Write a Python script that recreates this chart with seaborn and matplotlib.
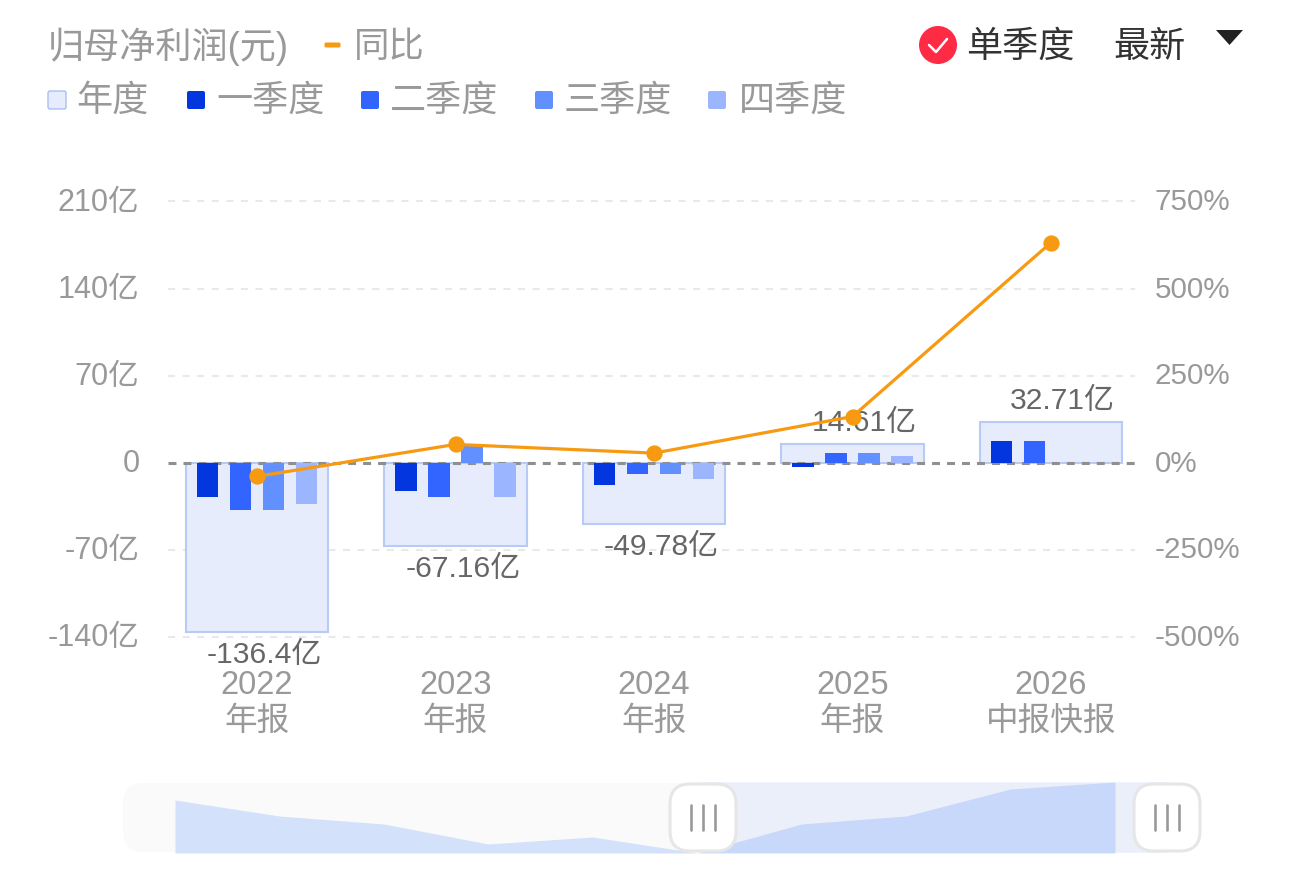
import matplotlib
matplotlib.use("Agg")
import matplotlib.pyplot as plt
from matplotlib.patches import Circle, FancyBboxPatch, Polygon
from matplotlib.transforms import ScaledTranslation
import numpy as np
import pandas as pd
import seaborn as sns

# Data (亿元, %)
periods = ["2022\n年报", "2023\n年报", "2024\n年报", "2025\n年报", "2026\n中报快报"]
quarters = ["一季度", "二季度", "三季度", "四季度"]
annual = [-136.4, -67.16, -49.78, 14.61, 32.71]
annual_labels = ["-136.4亿", "-67.16亿", "-49.78亿", "14.61亿", "32.71亿"]
q1 = [-28, -23, -18.5, -4, 17.7]
q2 = [-38, -28, -9, 8, 17.7]
q3 = [-38, 13, -9, 8, np.nan]
q4 = [-33, -28, -13.5, 5, np.nan]
yoy = [-40, 52, 27, 132, 632]
left_ticks = [-140, -70, 0, 70, 140, 210]
left_labels = ["-140亿", "-70亿", "0", "70亿", "140亿", "210亿"]
right_ticks = [-500, -250, 0, 250, 500, 750]
right_labels = ["-500%", "-250%", "0%", "250%", "500%", "750%"]
overview = [53, 37, 29, 9, 16, 0, 29, 37, 64, 71]

# Colours
q_colors = ["#0336DE", "#3265FF", "#6390FF", "#9BB6FF"]
year_fill = "#E6ECFC"
year_edge = "#B8CBF7"
orange = "#F79A12"
grey_text = "#999999"

sns.set_theme(style="white")
plt.rcParams["font.family"] = ["Liberation Sans", "Noto Sans CJK SC"]

W, H = 1290, 881
fig = plt.figure(figsize=(W / 100, H / 100), dpi=100)


def px_axes(x0, y0, x1, y1, **kw):
    # axes from pixel box, y measured from the top
    return fig.add_axes([x0 / W, 1 - y1 / H, (x1 - x0) / W, (y1 - y0) / H], **kw)


# Background layer for header and overview strip
bg = px_axes(0, 0, W, H, zorder=0)
bg.set_xlim(0, W)
bg.set_ylim(H, 0)
bg.axis("off")

# Main chart: 87px per 70亿
ymin, ymax = -150, 220
scale = 87 / 70
zero_y = 462.5
ax = px_axes(168, zero_y - ymax * scale, 1135, zero_y - ymin * scale, zorder=2)
ax.patch.set_visible(False)

sns.barplot(x=periods, y=annual, color=year_fill, edgecolor=year_edge, linewidth=1.5,
            width=0.72, saturation=1, ax=ax, zorder=1)

df = pd.DataFrame({"period": periods * 4,
                   "quarter": np.repeat(quarters, 5),
                   "value": q1 + q2 + q3 + q4})
sns.barplot(data=df, x="period", y="value", hue="quarter", hue_order=quarters, order=periods,
            palette=q_colors, saturation=1, width=0.665, gap=0.36, dodge=True,
            linewidth=0, edgecolor="none", legend=False, ax=ax, zorder=3)

ax.axhline(0, color="#8F8F8F", lw=2.2, ls=(0, (2.6, 2.3)), zorder=2)
ax.set_axisbelow(True)

for i, (v, txt) in enumerate(zip(annual, annual_labels)):
    off_x = 8.5 if v > 0 else 5.3
    off_y = 15.1 if v > 0 else -16.6
    ax.annotate(txt, xy=(i, v), xytext=(off_x, off_y), textcoords="offset points",
                ha="center", va="center", fontsize=21.6, color="#666666", zorder=4)

ax.set_ylim(ymin, ymax)
ax.set_yticks(left_ticks, left_labels)
ax.grid(axis="y", color="#E9E9E9", lw=1.5, ls=(0, (3.4, 3.6)))
ax.grid(axis="x", visible=False)
ax.get_ygridlines()[left_ticks.index(0)].set_visible(False)
ax.tick_params(axis="y", length=0, pad=20.6, labelsize=22, labelcolor=grey_text)
ax.tick_params(axis="x", length=0, pad=15.5, labelsize=23.5, labelcolor=grey_text)
ax.set_xlabel("")
ax.set_ylabel("")
for label in ax.get_xticklabels():
    label.set_linespacing(1.2)
sns.despine(ax=ax, left=True, bottom=True)

# YoY line on the right axis
ax2 = ax.twinx()
sns.pointplot(x=periods, y=yoy, color=orange, markersize=10, linewidth=2.3,
              errorbar=None, ax=ax2)
ax2.set_ylim(ymin * 250 / 70, ymax * 250 / 70)
ax2.set_yticks(right_ticks, right_labels)
ax2.tick_params(axis="y", length=0, pad=14, labelsize=21.3, labelcolor=grey_text)
ax2.set_xlabel("")
ax2.set_ylabel("")
ax2.grid(False)
sns.despine(ax=ax2, left=True, right=True, bottom=True)
ax.set_xlim((168 - 257) / 198.5, (1135 - 257) / 198.5)

# nudge y tick labels up 2px like the reference
nudge = ScaledTranslation(0, 2 / 100, fig.dpi_scale_trans)
for label in ax.get_yticklabels() + ax2.get_yticklabels():
    label.set_transform(label.get_transform() + nudge)

# Header
bg.text(48, 47, "归母净利润(元)", fontsize=26, color=grey_text, va="center")
bg.add_patch(FancyBboxPatch((326, 44), 13, 2, boxstyle="round,pad=1.5", fc=orange, ec="none"))
bg.text(354, 47, "同比", fontsize=25.5, color=grey_text, va="center")

bg.add_patch(FancyBboxPatch((50, 93), 14, 14, boxstyle="round,pad=2", fc=year_fill, ec="#A9BFF2", lw=1))
bg.text(76, 101, "年度", fontsize=26, color=grey_text, va="center")
for sx, tx, c, name in zip([187, 361, 535, 708], [216, 390, 564, 739], q_colors, quarters):
    bg.add_patch(FancyBboxPatch((sx + 2, 93), 14, 14, boxstyle="round,pad=2", fc=c, ec="none"))
    bg.text(tx, 101, name, fontsize=26, color=grey_text, va="center")

bg.add_patch(Circle((938, 45), 19, fc="#FF2B45", ec="none"))
bg.plot([929, 936, 947], [45, 52, 39], color="white", lw=1.8)
bg.text(966, 47, "单季度", fontsize=26, color="#333333", va="center")
bg.text(1113, 47, "最新", fontsize=26, color="#333333", va="center")
bg.add_patch(Polygon([(1216, 30), (1243, 30), (1229.5, 45)], fc="#222222", ec="none"))

# Overview strip
bg.add_patch(FancyBboxPatch((123, 783), 1077, 69, boxstyle="round,pad=0,rounding_size=20",
                            fc="#FAFAFA", ec="none"))
strip = px_axes(123, 782, 1200, 853, zorder=3)
strip.patch.set_visible(False)
strip.axis("off")
strip.set_xlim((123 - 175) / 104.44, (1200 - 175) / 104.44)
strip.set_ylim(0, 71)
strip.fill_between(range(len(overview)), overview, 0, color="#D3E1FA", lw=0)
strip.axvspan((703 - 175) / 104.44, (1167 - 175) / 104.44, color="#2962FF", alpha=0.07, lw=0)

top = px_axes(0, 0, W, H, zorder=4)
top.set_xlim(0, W)
top.set_ylim(H, 0)
top.axis("off")
top.patch.set_visible(False)
for hx in [668, 1132]:
    top.add_patch(FancyBboxPatch((hx + 2, 784), 66, 67, boxstyle="round,pad=0,rounding_size=20",
                                 fc="white", ec="#E6E6E6", lw=2.2))
    for dx in [23, 35, 47]:
        top.plot([hx + dx, hx + dx], [805, 830], color="#999999", lw=1.9)

fig.savefig("out.png", dpi=100)
